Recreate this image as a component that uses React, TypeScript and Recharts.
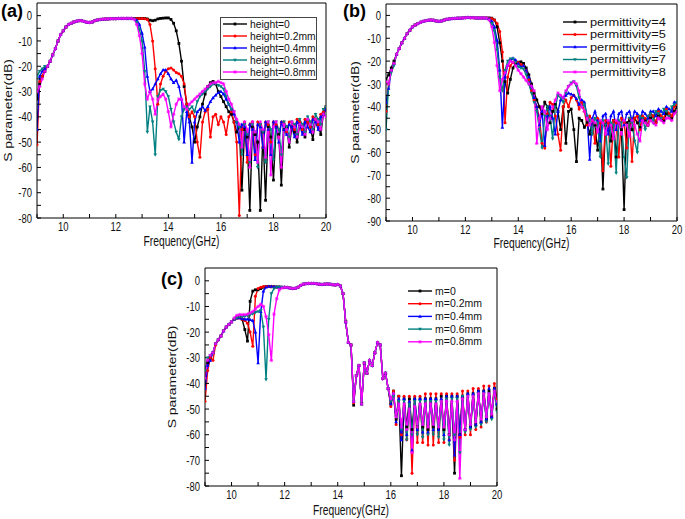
import React from "react";
import { LineChart, Line, XAxis, YAxis, Legend, Label } from "recharts";

const FONT = '"Liberation Sans", Arial, Helvetica, sans-serif';
// the source figure is stretched vertically, so axis text gets a y-scale
const STRETCH = 1.35;

// frequency grid (GHz), shared by all three panels
const FREQ = [
  9.0, 9.1, 9.2, 9.3, 9.4, 9.5, 9.6, 9.7, 9.8, 9.9,
  10.0, 10.1, 10.2, 10.3, 10.4, 10.5, 10.6, 10.7, 10.8, 10.9,
  11.0, 11.1, 11.2, 11.3, 11.4, 11.5, 11.6, 11.7, 11.8, 11.9,
  12.0, 12.1, 12.2, 12.3, 12.4, 12.5, 12.6, 12.7, 12.8, 12.9,
  13.0, 13.1, 13.2, 13.3, 13.4, 13.5, 13.6, 13.7, 13.8, 13.9,
  14.0, 14.1, 14.2, 14.3, 14.4, 14.5, 14.6, 14.7, 14.8, 14.9,
  15.0, 15.1, 15.2, 15.3, 15.4, 15.5, 15.6, 15.7, 15.8, 15.9,
  16.0, 16.1, 16.2, 16.3, 16.4, 16.5, 16.6, 16.7, 16.8, 16.9,
  17.0, 17.1, 17.2, 17.3, 17.4, 17.5, 17.6, 17.7, 17.8, 17.9,
  18.0, 18.1, 18.2, 18.3, 18.4, 18.5, 18.6, 18.7, 18.8, 18.9,
  19.0, 19.1, 19.2, 19.3, 19.4, 19.5, 19.6, 19.7, 19.8, 19.9,
  20.0,
];

const X_TICKS = [9, 10, 11, 12, 13, 14, 15, 16, 17, 18, 19, 20];
const Y_TICKS_80 = [-80, -75, -70, -65, -60, -55, -50, -45, -40, -35, -30, -25, -20, -15, -10, -5, 0];
const Y_TICKS_90 = [-90, -85, ...Y_TICKS_80];

// ---- (a) height ----
const HEIGHT_0 = [
  -33, -27, -24, -22, -20, -18, -15.5, -13, -10, -7.5,
  -6, -4.5, -3.5, -3, -2.5, -2.2, -2, -2, -2.3, -2.6,
  -2.7, -2.5, -2, -1.7, -1.5, -1.4, -1.3, -1.3, -1.2, -1.2,
  -1.2, -1.1, -1.1, -1.1, -1.1, -1.1, -1.1, -1.1, -1.1, -1.1,
  -1.1, -1.1, -1.3, -1.8, -2, -1.8, -1.3, -1.1, -1, -0.9,
  -0.9, -1.5, -3, -6, -11, -18, -28, -35, -40, -44,
  -50, -44, -40, -35, -31, -28, -26.5, -26, -27, -30,
  -32, -34, -36, -38, -39, -42, -46, -44, -69, -45,
  -48, -77, -44, -47, -50, -77, -46, -73, -44, -48,
  -65, -44, -47, -67, -45, -44, -52, -44, -46, -50,
  -43, -45, -48, -42, -44, -49, -41, -43, -47, -39,
  -36,
];
const HEIGHT_02 = [
  -51, -26, -24, -21, -20, -18, -15.5, -13, -10, -7.5,
  -6, -4.5, -3.5, -3, -2.5, -2.2, -2, -2, -2.3, -2.6,
  -2.7, -2.5, -2, -1.7, -1.5, -1.4, -1.3, -1.3, -1.2, -1.2,
  -1.2, -1.1, -1.1, -1.1, -1.1, -1.1, -1.1, -1.1, -1.1, -1.1,
  -1.1, -1.2, -1.5, -3.5, -10, -21, -35, -27, -24, -22,
  -21, -20.7, -21.5, -22.5, -23, -24, -27, -35, -40, -38,
  -40, -50, -56, -42, -38, -37, -48, -40, -39, -43,
  -40, -42, -47, -40, -38, -42, -50, -79, -45, -42,
  -58, -43, -42, -55, -42, -43, -52, -42, -43, -50,
  -42, -43, -48, -42, -42, -46, -42, -42, -45, -41,
  -42, -45, -41, -42, -44, -40, -41, -43, -39, -38,
  -36,
];
const HEIGHT_04 = [
  -45, -24, -22, -21, -20, -18, -15.5, -13, -10, -7.5,
  -6, -4.5, -3.5, -3, -2.5, -2.2, -2, -2, -2.3, -2.6,
  -2.7, -2.5, -2, -1.7, -1.5, -1.4, -1.3, -1.3, -1.2, -1.2,
  -1.2, -1.1, -1.1, -1.1, -1.1, -1.1, -1.1, -1.2, -1.8, -3.5,
  -7, -12.5, -24, -30, -29, -27, -25, -23, -21.5, -21.5,
  -23, -25, -26.5, -25.5, -28, -33, -50, -38, -42, -58,
  -42, -38, -37, -36, -37.5, -36, -34, -32.5, -31.5, -30.5,
  -30, -31, -33, -35, -37, -39, -42, -50, -43, -44,
  -55, -43, -45, -57, -43, -44, -52, -42, -45, -55,
  -42, -44, -50, -42, -45, -47, -43, -44, -48, -42,
  -43, -47, -42, -44, -46, -41, -42, -45, -40, -39,
  -37,
];
const HEIGHT_06 = [
  -24, -22, -21, -20, -20, -18, -15.5, -13, -10, -7.5,
  -6, -4.5, -3.5, -3, -2.5, -2.2, -2, -2, -2.3, -2.6,
  -2.7, -2.5, -2, -1.7, -1.5, -1.4, -1.3, -1.3, -1.2, -1.2,
  -1.2, -1.1, -1.1, -1.1, -1.1, -1.1, -1.1, -1.3, -2.5, -5.5,
  -10, -22, -46, -36, -42, -55, -32, -29.5, -29, -30,
  -32, -37, -42, -46, -49, -40, -37, -36, -37, -36,
  -38, -34, -32, -31, -30, -29, -28, -27, -27, -27.5,
  -28, -29, -32, -35, -37, -38, -42, -44, -55, -43,
  -47, -58, -43, -46, -60, -43, -46, -58, -42, -45,
  -57, -42, -45, -55, -42, -44, -48, -42, -43, -47,
  -41, -43, -46, -40, -42, -45, -39, -41, -43, -37,
  -36,
];
const HEIGHT_08 = [
  -30, -28, -25, -22, -20, -18, -15.5, -13, -10, -7.5,
  -6, -4.5, -3.5, -3, -2.5, -2.2, -2, -2, -2.3, -2.6,
  -2.7, -2.5, -2, -1.7, -1.5, -1.4, -1.3, -1.3, -1.2, -1.2,
  -1.2, -1.1, -1.1, -1.1, -1.1, -1.1, -1.1, -1.5, -3.5, -8,
  -15, -27, -33, -30, -33, -39, -33, -32, -31, -33,
  -38, -44, -39, -35, -33, -33, -36, -37, -35, -34,
  -33, -32, -31, -30, -29, -28, -27, -26.5, -26.5, -26,
  -26.5, -27, -30, -33, -35, -38, -41, -43, -52, -42,
  -45, -60, -42, -46, -58, -42, -45, -56, -42, -63,
  -44, -42, -48, -60, -43, -45, -50, -42, -44, -48,
  -43, -44, -47, -41, -43, -46, -41, -42, -45, -39,
  -40,
];

// ---- (b) permittivity ----
const PERM_4 = [
  -28, -26, -23, -20, -17, -14.5, -12, -10, -8, -6.5,
  -5, -4.2, -3.6, -3, -2.6, -2.3, -2.1, -2, -2.1, -2.4,
  -2.6, -2.4, -2, -1.7, -1.5, -1.4, -1.3, -1.2, -1.2, -1.1,
  -1, -0.9, -1, -1, -1.1, -1.1, -1.1, -1.1, -1.1, -1.1,
  -1.2, -2, -5, -12, -20, -29, -34, -28, -23, -21,
  -20.5, -20.3, -21, -23, -26, -30, -34, -37, -40, -43,
  -38, -40, -47, -42, -39, -42, -50, -40, -56, -42,
  -41, -50, -64, -45, -46, -49, -47, -52, -46, -48,
  -59, -47, -76, -48, -47, -55, -46, -62, -47, -50,
  -85, -47, -46, -50, -45, -47, -49, -45, -46, -48,
  -45, -44, -47, -44, -45, -46, -43, -44, -45, -42,
  -40,
];
const PERM_5 = [
  -42, -30, -24, -21, -17, -14.5, -12, -10, -8, -6.5,
  -5, -4.2, -3.6, -3, -2.6, -2.3, -2.1, -2, -2.1, -2.4,
  -2.6, -2.4, -2, -1.7, -1.5, -1.4, -1.3, -1.2, -1.2, -1.1,
  -1, -0.9, -1, -1, -1.1, -1.1, -1.1, -1.1, -1.1, -1.2,
  -1.3, -2, -3.5, -7, -16, -47, -27, -22, -20.5, -20,
  -20.5, -21.5, -22, -24, -28, -33, -37, -40, -45, -56,
  -58, -43, -38, -39, -44, -52, -59, -40, -37, -40,
  -36, -35, -37, -41, -38, -42, -48, -44, -46, -56,
  -45, -47, -68, -46, -47, -66, -46, -47, -62, -45,
  -47, -58, -45, -64, -45, -44, -50, -44, -45, -48,
  -43, -44, -47, -42, -44, -45, -41, -43, -44, -40,
  -39,
];
const PERM_6 = [
  -38, -32, -24, -21, -17, -14.5, -12, -10, -8, -6.5,
  -5, -4.2, -3.6, -3, -2.6, -2.3, -2.1, -2, -2.1, -2.4,
  -2.6, -2.4, -2, -1.7, -1.5, -1.4, -1.3, -1.2, -1.2, -1.1,
  -1, -0.9, -1, -1, -1.1, -1.1, -1.1, -1.1, -1.2, -1.5,
  -2.5, -5, -11, -24, -49, -27, -22, -19.5, -18.8, -19.5,
  -21, -22.5, -22, -24, -27, -31, -36, -40, -48, -42,
  -57, -44, -40, -45, -52, -42, -37, -36, -35, -34,
  -34.5, -35, -36.5, -39, -37, -38, -44, -63, -45, -42,
  -46, -55, -44, -43, -52, -44, -42, -50, -43, -42,
  -48, -43, -42, -46, -42, -43, -46, -42, -43, -45,
  -42, -42, -44, -41, -42, -43, -40, -41, -42, -38,
  -38,
];
const PERM_7 = [
  -50, -30, -25, -22, -17, -14.5, -12, -10, -8, -6.5,
  -5, -4.2, -3.6, -3, -2.6, -2.3, -2.1, -2, -2.1, -2.4,
  -2.6, -2.4, -2, -1.7, -1.5, -1.4, -1.3, -1.2, -1.2, -1.1,
  -1, -0.9, -1, -1, -1.1, -1.1, -1.1, -1.1, -1.3, -2,
  -3.5, -7, -15, -27, -33, -24, -20, -19, -19, -20.5,
  -22.5, -23, -23.5, -26, -30, -34, -38, -42, -50, -58,
  -44, -40, -44, -54, -40, -35, -36, -38, -34, -31,
  -29.5, -29, -31, -36, -40, -39, -44, -46, -52, -45,
  -47, -62, -46, -48, -65, -47, -48, -69, -46, -47,
  -62, -71, -45, -47, -55, -60, -44, -45, -50, -44,
  -43, -47, -42, -43, -45, -41, -42, -44, -40, -39,
  -38,
];
const PERM_8 = [
  -29, -30, -24, -21, -17, -14.5, -12, -10, -8, -6.5,
  -5, -4.2, -3.6, -3, -2.6, -2.3, -2.1, -2, -2.1, -2.4,
  -2.6, -2.4, -2, -1.7, -1.5, -1.4, -1.3, -1.2, -1.2, -1.1,
  -1, -0.9, -1, -1, -1.1, -1.1, -1.1, -1.1, -1.2, -2,
  -5, -12, -22, -33, -28, -25, -22, -20, -20.5, -22,
  -24, -25.5, -27, -28.5, -30, -31, -33, -56, -45, -40,
  -42, -50, -45, -40, -37, -34, -35, -36, -33, -31,
  -30, -29, -30, -33, -40, -42, -45, -48, -46, -47,
  -51, -46, -47, -52, -46, -48, -54, -46, -47, -52,
  -46, -48, -53, -46, -48, -52, -55, -46, -47, -48,
  -46, -47, -48, -45, -46, -47, -45, -45, -46, -43,
  -42,
];

// ---- (c) m ----
const M_0 = [
  -38, -32, -30, -28, -24.5, -23, -21.5, -19.5, -18, -17,
  -16, -15, -14.5, -14.3, -15, -19, -23.5, -8, -4, -3.5,
  -3.5, -3, -2.5, -2.2, -2.2, -2.3, -2.3, -2.4, -2.4, -2.5,
  -2.5, -2.6, -2.8, -3, -2.9, -2.5, -1.8, -1.3, -1.1, -1,
  -1, -1, -1.1, -1.3, -1.4, -1.3, -1.2, -1.3, -1.5, -1.6,
  -1.4, -2, -5, -16, -24, -25, -48.5, -37, -33, -48,
  -32, -36, -31, -33, -28, -24, -25, -38, -36, -42,
  -48, -43, -54, -45, -76, -46, -57, -46, -58, -46,
  -57, -46, -57, -46, -58, -46, -57, -46, -58, -45,
  -58, -45, -60, -45, -75, -45, -60, -45, -58, -44,
  -57, -44, -56, -43, -55, -43, -54, -43, -53, -42,
  -50,
];
const M_02 = [
  -47, -35, -30, -31, -25, -23, -21.5, -19.5, -18, -17,
  -16, -15, -14.5, -14.5, -15, -15.5, -16.5, -20, -25.5, -6,
  -3, -2.5, -2.2, -2.2, -2.2, -2.3, -2.3, -2.4, -2.4, -2.5,
  -2.5, -2.6, -2.8, -3, -2.9, -2.5, -1.8, -1.3, -1.1, -1,
  -1, -1, -1.1, -1.3, -1.4, -1.3, -1.2, -1.3, -1.5, -1.6,
  -1.4, -2, -5, -16, -24, -25, -47.5, -37, -33, -48,
  -32, -36, -31, -33, -28, -24, -25, -38, -36, -42,
  -49, -43, -56, -45, -60, -45, -62, -45, -75, -45,
  -63, -45, -63, -44, -64, -44, -64, -44, -63, -44,
  -63, -44, -62, -44, -70, -44, -61, -43, -60, -43,
  -60, -42, -58, -42, -57, -41, -55, -41, -53, -40,
  -46,
];
const M_04 = [
  -42, -33, -31, -28, -24.5, -23, -21.5, -19.5, -18, -17,
  -16, -15, -14.5, -14.5, -14.8, -15, -15, -15.2, -15.5, -20,
  -32, -12, -4, -2.5, -2.2, -2.2, -2.3, -2.4, -2.4, -2.5,
  -2.5, -2.6, -2.8, -3, -2.9, -2.5, -1.8, -1.3, -1.1, -1,
  -1, -1, -1.1, -1.3, -1.4, -1.3, -1.2, -1.3, -1.5, -1.6,
  -1.4, -2, -5, -16, -24, -25, -47, -37, -33, -48,
  -32, -36, -31, -33, -28, -24, -25, -38, -36, -42,
  -48, -44, -55, -46, -62, -46, -60, -47, -66, -46,
  -58, -46, -59, -46, -59, -46, -58, -46, -58, -46,
  -60, -45, -62, -45, -68, -45, -60, -45, -58, -44,
  -57, -44, -56, -43, -55, -43, -54, -42, -53, -42,
  -48,
];
const M_06 = [
  -35, -30, -29, -28, -24.5, -23, -21.5, -19.5, -18, -17,
  -16, -15, -14.5, -14, -14, -13.8, -13.5, -13.2, -12.8, -12.3,
  -12, -11.5, -18, -38.5, -15, -5, -3, -2.4, -2.4, -2.5,
  -2.5, -2.6, -2.8, -3, -2.9, -2.5, -1.8, -1.3, -1.1, -1,
  -1, -1, -1.1, -1.3, -1.4, -1.3, -1.2, -1.3, -1.5, -1.6,
  -1.4, -2, -5, -16, -24, -25, -47, -37, -33, -48,
  -32, -36, -31, -33, -28, -24, -25, -38, -36, -42,
  -47, -45, -53, -47, -58, -47, -62, -48, -60, -47,
  -60, -47, -61, -47, -60, -47, -60, -47, -61, -47,
  -62, -46, -64, -46, -60, -46, -67, -45, -59, -45,
  -58, -45, -57, -44, -56, -44, -55, -44, -54, -43,
  -51,
];
const M_08 = [
  -38, -31, -29, -28, -24.5, -23, -21.5, -19.5, -18, -17,
  -16, -14.5, -13.5, -13.2, -13.2, -13.2, -13, -12.5, -12, -11,
  -10, -9.2, -10, -14, -21, -31, -13, -7, -3.5, -2.8,
  -2.6, -2.6, -2.8, -3, -2.9, -2.5, -1.8, -1.3, -1.1, -1,
  -1, -1, -1.1, -1.3, -1.4, -1.3, -1.2, -1.3, -1.5, -1.6,
  -1.4, -2, -5, -16, -24, -25, -47, -37, -33, -48,
  -32, -36, -31, -33, -28, -24, -25, -38, -36, -42,
  -46, -44, -53, -48, -57, -48, -58, -50, -67, -49,
  -57, -48, -56, -48, -57, -48, -56, -48, -57, -47,
  -57, -47, -60, -47, -62, -47, -77, -46, -58, -45,
  -56, -45, -55, -44, -54, -44, -53, -44, -52, -43,
  -47,
];

const COLORS = ["#000000", "#ff0000", "#0000ff", "#008080", "#ff00ff"];
const SHAPES = ["square", "circle", "up", "down", "star"];

const NAMES_A = ["height=0", "height=0.2mm", "height=0.4mm", "height=0.6mm", "height=0.8mm"];
const NAMES_B = ["permittivity=4", "permittivity=5", "permittivity=6", "permittivity=7", "permittivity=8"];
const NAMES_C = ["m=0", "m=0.2mm", "m=0.4mm", "m=0.6mm", "m=0.8mm"];

const Marker = ({ shape, cx, cy, color }: any) => {
  if (cx == null || cy == null) return <g />;
  switch (shape) {
    case "square":
      return <rect x={cx - 1.4} y={cy - 1.4} width={2.8} height={2.8} fill={color} />;
    case "circle":
      return <circle cx={cx} cy={cy} r={1.5} fill={color} />;
    case "up":
      return <polygon points={`${cx},${cy - 2} ${cx - 1.8},${cy + 1.3} ${cx + 1.8},${cy + 1.3}`} fill={color} />;
    case "down":
      return <polygon points={`${cx},${cy + 2} ${cx - 1.8},${cy - 1.3} ${cx + 1.8},${cy - 1.3}`} fill={color} />;
    default:
      return (
        <path
          d={`M${cx - 1.8},${cy}H${cx + 1.8}M${cx},${cy - 1.8}V${cy + 1.8}M${cx - 1.3},${cy - 1.3}L${cx + 1.3},${cy + 1.3}M${cx - 1.3},${cy + 1.3}L${cx + 1.3},${cy - 1.3}`}
          stroke={color}
          strokeWidth={0.8}
          fill="none"
        />
      );
  }
};

const XTick = (props: any) => {
  const { x, y, payload } = props;
  const v = payload.value;
  if (v % 2 !== 0) return <g />;
  return (
    <g transform={`translate(${x},${y}) scale(1,${STRETCH})`}>
      <text x={0} y={0} dy="0.72em" textAnchor="middle" fontSize={9.5} fill="#111">
        {v}
      </text>
    </g>
  );
};

const YTick = (props: any) => {
  const { x, y, payload } = props;
  const v = payload.value;
  if (v % 10 !== 0) return <g />;
  return (
    <g transform={`translate(${x},${y}) scale(1,${STRETCH})`}>
      <text x={0} y={0} dy="0.36em" textAnchor="end" fontSize={9.5} fill="#111">
        {v}
      </text>
    </g>
  );
};

const XTitle = ({ viewBox, base }: any) => {
  const { x, y, width } = viewBox;
  return (
    <g transform={`translate(${x + width / 2},${y + base}) scale(1,${STRETCH})`}>
      <text textAnchor="middle" fontSize={10.3} fill="#111">
        Frequency(GHz)
      </text>
    </g>
  );
};

const YTitle = ({ viewBox, cx }: any) => {
  const { x, y, height } = viewBox;
  return (
    <g transform={`translate(${x + cx},${y + height / 2}) rotate(-90) scale(${STRETCH},1)`}>
      <text textAnchor="middle" dy="0.35em" fontSize={10.3} fill="#111">
        S parameter(dB)
      </text>
    </g>
  );
};

const LegendBody = ({ names, box, w, h, rowY, rowH, fontSize, sx }: any) => (
  <svg width={w} height={h} style={{ display: "block", overflow: "visible" }}>
    {box && <rect x={0.5} y={0.5} width={w - 1} height={h - 1} fill="#fff" stroke="#444" />}
    {names.map((name: string, i: number) => {
      const y = rowY + i * rowH;
      return (
        <g key={name}>
          <line x1={3} x2={27} y1={y} y2={y} stroke={COLORS[i]} strokeWidth={1.4} />
          <Marker shape={SHAPES[i]} cx={15} cy={y} color={COLORS[i]} />
          <g transform={`translate(30,${y}) scale(${sx},1)`}>
            <text dy="0.35em" fontSize={fontSize} fill="#111">
              {name}
            </text>
          </g>
        </g>
      );
    })}
  </svg>
);

function SPanel(p: any) {
  const data = FREQ.map((f, i) => {
    const row: any = { f };
    p.series.forEach((s: number[], k: number) => {
      row["s" + k] = s[i];
    });
    return row;
  });

  return (
    <div style={{ position: "absolute", left: p.left, top: p.top }}>
      <LineChart width={p.width} height={p.height} data={data} margin={p.margin}>
        <XAxis
          xAxisId="b"
          dataKey="f"
          type="number"
          domain={[9, 20]}
          ticks={X_TICKS}
          interval={0}
          allowDataOverflow
          height={p.xHeight}
          stroke="#000"
          tickSize={-4}
          tickMargin={8}
          tick={<XTick />}
        >
          <Label content={<XTitle base={p.xTitleBase} />} />
        </XAxis>
        <XAxis
          xAxisId="t"
          orientation="top"
          dataKey="f"
          type="number"
          domain={[9, 20]}
          ticks={X_TICKS}
          interval={0}
          allowDataOverflow
          height={1}
          stroke="#000"
          tickSize={-4}
          tick={false}
        />
        <YAxis
          yAxisId="l"
          type="number"
          domain={p.yDomain}
          ticks={p.yTicks}
          interval={0}
          allowDataOverflow
          width={p.yWidth}
          stroke="#000"
          tickSize={-4}
          tickMargin={9}
          tick={<YTick />}
        >
          <Label content={<YTitle cx={p.yTitleX} />} />
        </YAxis>
        <YAxis
          yAxisId="r"
          orientation="right"
          type="number"
          domain={p.yDomain}
          ticks={p.yTicks}
          interval={0}
          allowDataOverflow
          width={1}
          stroke="#000"
          tickSize={-4}
          tick={false}
        />
        <Legend
          layout="vertical"
          align="center"
          verticalAlign="middle"
          wrapperStyle={{ left: p.legend.left, top: p.legend.top, width: p.legend.w, height: p.legend.h }}
          content={() => (
            <LegendBody
              names={p.names}
              box={p.legend.box}
              w={p.legend.w}
              h={p.legend.h}
              rowY={p.legend.rowY}
              rowH={p.legend.rowH}
              fontSize={p.legend.fontSize}
              sx={p.legend.sx}
            />
          )}
        />
        {p.series.map((_: number[], k: number) => (
          <Line
            key={k}
            xAxisId="b"
            yAxisId="l"
            dataKey={"s" + k}
            name={p.names[k]}
            type="linear"
            stroke={COLORS[k]}
            strokeWidth={1.4}
            activeDot={false}
            isAnimationActive={false}
            dot={(d: any) => (
              <Marker key={`d${k}-${d.index}`} shape={SHAPES[k]} cx={d.cx} cy={d.cy} color={COLORS[k]} />
            )}
          />
        ))}
      </LineChart>
    </div>
  );
}

const tagStyle: React.CSSProperties = {
  position: "absolute",
  fontSize: 18,
  lineHeight: "18px",
  fontWeight: "bold",
  color: "#000",
};

export default function App() {
  return (
    <div
      style={{
        position: "absolute",
        left: 0,
        top: 0,
        width: 685,
        height: 519,
        background: "#fff",
        fontFamily: FONT,
        overflow: "hidden",
      }}
    >
      <SPanel
        left={0}
        top={0}
        width={340}
        height={250}
        margin={{ top: 2, right: 13, left: 0, bottom: 0 }}
        yWidth={37}
        xHeight={32}
        yDomain={[-80, 5]}
        yTicks={Y_TICKS_80}
        yTitleX={8}
        xTitleBase={27.5}
        names={NAMES_A}
        series={[HEIGHT_0, HEIGHT_02, HEIGHT_04, HEIGHT_06, HEIGHT_08]}
        legend={{ left: 220, top: 17, w: 97, h: 63, box: true, rowY: 7, rowH: 12, fontSize: 10.3, sx: 1 }}
      />
      <SPanel
        left={340}
        top={0}
        width={345}
        height={255}
        margin={{ top: 3, right: 7, left: 0, bottom: 0 }}
        yWidth={46}
        xHeight={34}
        yDomain={[-90, 5]}
        yTicks={Y_TICKS_90}
        yTitleX={15}
        xTitleBase={26.5}
        names={NAMES_B}
        series={[PERM_4, PERM_5, PERM_6, PERM_7, PERM_8]}
        legend={{ left: 220, top: 15, w: 115, h: 65, box: false, rowY: 7, rowH: 12.5, fontSize: 10.5, sx: 1.22 }}
      />
      <SPanel
        left={160}
        top={265}
        width={345}
        height={254}
        margin={{ top: 2, right: 7, left: 0, bottom: 0 }}
        yWidth={45}
        xHeight={33}
        yDomain={[-80, 5]}
        yTicks={Y_TICKS_80}
        yTitleX={12.5}
        xTitleBase={28.5}
        names={NAMES_C}
        series={[M_0, M_02, M_04, M_06, M_08]}
        legend={{ left: 245, top: 19, w: 90, h: 65, box: false, rowY: 7, rowH: 12.7, fontSize: 10.5, sx: 1 }}
      />
      <div style={{ ...tagStyle, left: 1, top: 2 }}>(a)</div>
      <div style={{ ...tagStyle, left: 343, top: 2 }}>(b)</div>
      <div style={{ ...tagStyle, left: 161, top: 270 }}>(c)</div>
    </div>
  );
}
